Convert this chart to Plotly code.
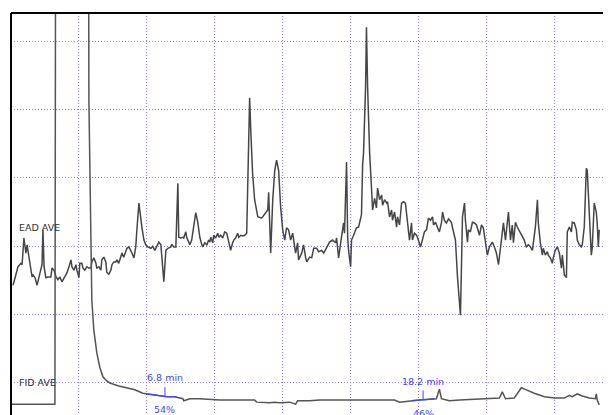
import numpy as np
import plotly.graph_objects as go

# ---- EAD AVE trace (time in min, response in grid units) ----
ead_time = [0.09,0.18,0.31,0.44,0.49,0.57,0.66,0.71,0.75,0.84,0.93,0.97,1.06,1.15,1.24,1.37,1.41,1.46,1.54,1.63,
            1.76,1.81,1.90,1.99,2.07,2.16,2.25,2.34,2.47,2.56,2.65,2.69,2.78,2.87,2.91,3.00,3.04,3.13,3.18,3.26,
            3.35,3.44,3.53,3.57,3.66,3.75,3.79,3.88,3.97,4.01,4.10,4.19,4.23,4.32,4.41,4.46,4.54,4.63,4.68,4.76,
            4.85,4.90,4.98,5.07,5.12,5.21,5.29,5.34,5.43,5.51,5.56,5.65,5.78,5.87,5.95,6.04,6.18,6.26,6.35,6.44,
            6.53,6.62,6.70,6.75,6.84,6.93,7.06,7.10,7.19,7.28,7.37,7.41,7.50,7.59,7.63,7.72,7.76,7.85,7.90,7.98,
            8.07,8.16,8.25,8.34,8.43,8.47,8.56,8.65,8.73,8.78,8.82,8.91,8.95,9.04,9.13,9.18,9.26,9.35,9.44,9.53,
            9.62,9.70,9.79,9.84,9.92,10.01,10.06,10.15,10.23,10.32,10.41,10.45,10.54,10.59,10.67,10.76,10.90,11.07,11.20,11.34,
            11.38,11.42,11.47,11.56,11.65,11.73,11.82,11.91,12.00,12.09,12.17,12.26,12.35,12.44,12.57,12.66,12.70,12.84,12.92,13.01,
            13.06,13.19,13.28,13.37,13.50,13.59,13.72,13.81,13.94,14.07,14.20,14.34,14.38,14.47,14.56,14.64,14.69,14.73,14.82,14.87,
            14.91,15.00,15.04,15.13,15.26,15.35,15.48,15.53,15.57,15.66,15.70,15.75,15.84,15.92,15.97,16.06,16.14,16.19,16.28,16.37,
            16.41,16.50,16.59,16.63,16.72,16.81,16.85,16.94,17.03,17.07,17.16,17.25,17.34,17.42,17.51,17.60,17.69,17.73,17.82,17.91,
            17.95,18.09,18.17,18.26,18.35,18.44,18.53,18.62,18.66,18.75,18.84,18.92,19.01,19.06,19.14,19.23,19.32,19.45,19.50,19.63,
            19.72,19.76,19.85,19.89,19.94,20.03,20.07,20.16,20.20,20.29,20.38,20.47,20.56,20.69,20.78,20.86,20.95,21.04,21.13,21.26,
            21.35,21.44,21.53,21.61,21.70,21.75,21.84,21.92,21.97,22.06,22.14,22.19,22.28,22.36,22.50,22.58,22.67,22.76,22.85,22.94,
            23.03,23.07,23.16,23.25,23.29,23.38,23.47,23.51,23.60,23.69,23.73,23.82,23.91,23.95,24.04,24.13,24.22,24.31,24.35,24.44,
            24.53,24.57,24.66,24.75,24.79,24.88,24.97,25.01,25.10,25.19,25.23,25.32,25.41,25.45,25.54,25.63,25.67,25.76,25.85,25.89,
            25.94,25.98]
ead_resp = [1.43,1.55,1.70,1.75,1.73,2.12,1.90,2.02,1.92,1.75,1.55,1.58,1.54,1.43,1.55,1.73,2.24,1.70,1.54,1.55,
            1.55,1.68,1.65,1.55,1.51,1.55,1.48,1.54,1.61,1.70,1.80,1.70,1.65,1.73,1.65,1.54,1.75,1.75,1.68,1.65,
            1.70,1.68,1.68,1.77,1.83,1.75,1.68,1.70,1.65,1.80,1.84,1.77,1.62,1.59,1.65,1.73,1.77,1.77,1.80,1.75,
            1.83,1.90,1.84,1.94,1.97,1.99,1.92,1.90,1.83,1.99,2.24,2.63,2.28,2.09,2.02,1.99,1.97,2.00,1.94,1.99,
            2.06,2.02,1.70,1.48,1.94,1.97,1.99,2.03,1.99,1.99,2.92,2.13,2.12,2.13,2.12,2.21,2.13,2.05,2.02,2.09,
            2.28,2.49,2.35,2.13,2.02,1.99,2.05,2.02,2.09,2.06,2.13,2.05,2.16,2.12,2.19,2.13,2.16,2.12,2.21,2.19,
            2.06,1.94,2.05,2.09,2.12,2.19,2.13,2.16,2.15,2.16,2.19,2.82,4.17,3.70,3.07,2.68,2.43,2.41,2.46,2.53,
            2.79,2.34,1.90,2.68,3.11,3.26,3.11,2.57,2.24,2.09,2.27,2.24,2.09,2.19,1.90,2.05,1.80,1.90,2.02,1.84,
            1.77,1.84,1.83,1.97,1.97,1.92,1.94,1.90,1.99,2.06,2.09,2.05,2.12,1.83,2.05,2.24,2.34,2.19,3.23,2.13,
            1.94,1.70,2.09,2.16,2.27,2.28,2.46,3.19,3.36,4.33,5.20,4.33,3.36,2.87,2.53,2.70,2.56,2.85,2.68,2.75,
            2.60,2.68,2.63,2.65,2.43,2.53,2.38,2.50,2.28,2.43,2.31,2.63,2.65,2.63,2.35,2.09,2.34,2.09,2.19,2.16,
            2.13,1.99,2.09,2.21,2.24,2.41,2.38,2.43,2.31,2.35,2.27,2.21,2.34,2.50,2.38,2.34,2.40,2.35,2.27,2.09,
            1.55,1.40,0.99,1.61,2.43,2.63,2.38,2.06,2.24,2.21,2.35,2.34,2.31,2.16,2.31,2.27,2.09,1.87,1.99,2.06,
            1.99,1.90,1.73,1.94,2.24,2.34,2.09,2.38,2.50,2.09,2.31,2.05,2.35,2.28,2.19,2.16,2.09,1.99,2.02,1.99,
            1.94,2.05,2.28,2.68,2.34,2.05,1.87,1.97,1.87,1.92,1.87,1.83,1.75,1.83,1.94,1.99,1.90,1.68,1.87,1.58,
            1.54,2.21,2.28,2.21,2.35,2.34,2.24,2.09,2.02,1.99,2.02,2.28,3.14,3.11,2.43,1.87,1.97,2.63,2.50,2.34,
            1.99,2.24]

# ---- FID AVE trace ----
fid_time = [0.00,1.94,1.99,3.40,3.44,3.53,3.57,3.66,3.79,3.93,4.06,4.23,4.37,4.72,5.12,5.47,5.82,6.35,6.88,7.23,
            7.59,7.63,7.90,8.34,9.22,10.76,10.85,11.42,11.65,11.87,12.31,12.57,12.66,13.19,13.63,14.51,15.39,16.28,16.94,17.16,
            17.60,18.04,18.79,18.92,19.01,19.36,19.81,20.69,21.57,21.70,21.84,22.23,22.45,22.54,22.76,23.11,23.56,24.00,24.44,24.66,
            24.79,25.01,25.23,25.54,25.81,25.85,25.89,25.98]
fid_resp = [-0.31,-0.31,11.5,11.5,4.14,1.94,1.21,0.77,0.44,0.22,0.09,0.03,0.00,-0.04,-0.07,-0.10,-0.15,-0.18,-0.20,-0.20,
            -0.23,-0.26,-0.23,-0.23,-0.25,-0.25,-0.28,-0.29,-0.28,-0.29,-0.28,-0.31,-0.26,-0.26,-0.25,-0.25,-0.25,-0.25,-0.25,-0.28,
            -0.26,-0.25,-0.23,-0.09,-0.23,-0.26,-0.25,-0.23,-0.22,-0.13,-0.23,-0.22,-0.12,-0.07,-0.10,-0.15,-0.20,-0.22,-0.22,-0.18,
            -0.20,-0.16,-0.19,-0.22,-0.23,-0.16,-0.25,-0.32]

# ---- integrated FID peaks ----
peak_rt = [6.8, 18.2]
peak_labels = ["6.8 min", "18.2 min"]
peak_pct = ["54%", "46%"]
peak_start = [5.98, 17.69]
peak_end = [7.31, 18.70]

trace_labels = ["EAD AVE", "FID AVE"]
label_level = [2.28, 0.01]

BLUE = "#4646ff"
GRID = "rgb(150,115,255)"
FONT = "DejaVu Sans"

fig = go.Figure()
fig.add_trace(go.Scatter(x=ead_time, y=ead_resp, mode="lines",
                         line=dict(color="#464646", width=1.5), hoverinfo="skip"))
fig.add_trace(go.Scatter(x=fid_time, y=fid_resp, mode="lines",
                         line=dict(color="#555555", width=1.5), hoverinfo="skip"))

ft = np.array(fid_time)
fr = np.array(fid_resp)
for rt, lab, pct, s, e in zip(peak_rt, peak_labels, peak_pct, peak_start, peak_end):
    inner = ft[(ft > s) & (ft < e)]
    xs = np.concatenate([[s], inner, [e]])
    ys = np.interp(xs, ft, fr)
    fig.add_trace(go.Scatter(x=xs, y=ys, mode="lines",
                             line=dict(color=BLUE, width=1.4), hoverinfo="skip"))
    base = float(np.interp(rt, ft, fr))
    fig.add_shape(type="line", xref="x", yref="y", x0=rt, x1=rt, y0=base, y1=base + 0.135,
                  line=dict(color=BLUE, width=1))
    fig.add_annotation(x=rt, y=base, xref="x", yref="y", text=lab, showarrow=False,
                       yshift=18.5, font=dict(family=FONT, size=9.5, color=BLUE))
    fig.add_annotation(x=rt, y=base, xref="x", yref="y", text=pct, showarrow=False,
                       yshift=-13.5, font=dict(family=FONT, size=9.5, color=BLUE))

for lab, lvl in zip(trace_labels, label_level):
    fig.add_annotation(x=0.27, y=lvl, xref="x", yref="y", text=lab, showarrow=False,
                       xanchor="left", font=dict(family=FONT, size=9.5, color="#333333"))

# frame (left and top edges)
fig.add_shape(type="line", xref="paper", yref="paper", x0=0, x1=1, y0=1, y1=1,
              line=dict(color="black", width=2))
fig.add_shape(type="line", xref="paper", yref="paper", x0=0, x1=0, y0=0, y1=1,
              line=dict(color="black", width=2))

fig.update_xaxes(range=[0, 26.5], dtick=3, tick0=0, showgrid=True, gridcolor=GRID,
                 griddash="1px,2px", gridwidth=1, zeroline=False, showticklabels=False,
                 ticks="", showline=False)
fig.update_yaxes(range=[-0.468, 5.41], dtick=1, tick0=0, showgrid=True, gridcolor=GRID,
                 griddash="1px,2px", gridwidth=1, zeroline=False, showticklabels=False,
                 ticks="", showline=False)
# page body adds an 8px margin; offset the figure so the frame lands where the original does
fig.update_layout(width=603, height=407, margin=dict(l=3, r=0, t=5, b=0),
                  plot_bgcolor="white", paper_bgcolor="white", showlegend=False)

fig.write_html("out.html")
